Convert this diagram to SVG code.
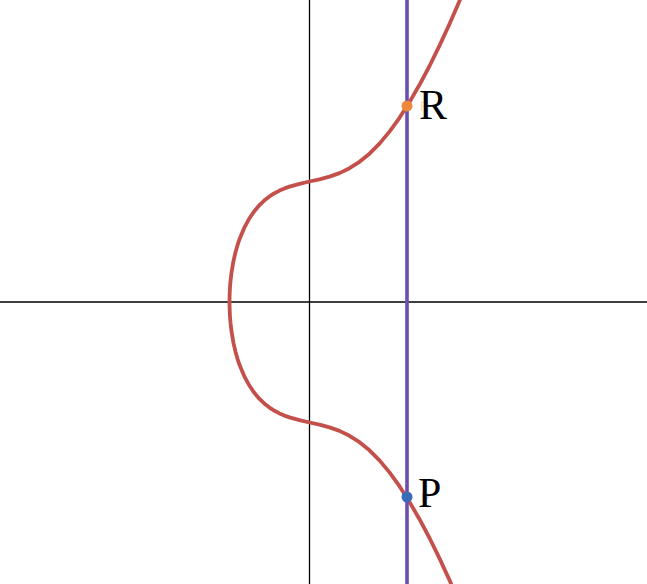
<svg xmlns="http://www.w3.org/2000/svg" width="647" height="584" viewBox="0 0 647 584">
<style>
.axis{stroke:#000;stroke-width:1.3;fill:none}
.curve{stroke:#c4504c;stroke-width:3.8;fill:none;stroke-linejoin:round;stroke-linecap:round}
.line{stroke:#6a4fb0;stroke-width:3.6;fill:none}
.lbl{font-family:"Liberation Serif","DejaVu Serif",serif;font-size:42px;fill:#000}
.faint{font-family:"Liberation Sans",sans-serif;font-size:13px;opacity:0.3}
</style>
<rect width="647" height="584" fill="#fff"/>
<g id="axes">
<line class="axis" x1="309.5" y1="0" x2="309.5" y2="584"/>
<line class="axis" x1="0" y1="302" x2="647" y2="302"/>
</g>
<g id="curve">
<path class="curve" d="M464.5,-10.9 L459.5,1 L449.5,23.9 L439.5,45.6 L429.5,66 L419.5,84.8 L409.5,102.1 L399.5,117.8 L389.5,131.6 L379.5,143.6 L369.5,153.7 L359.5,161.8 L349.5,168.2 L339.5,173.1 L329.5,176.6 L319.5,179.3 L309.5,181.5 L299.5,183.8 L289.5,186.6 L284.5,188.4 L279.5,190.6 L274.5,193.2 L269.5,196.4 L264.5,200.3 L259.5,205.1 L254.5,210.9 L249.5,218.2 L244.5,227.3 L239.5,239.2 L237.5,245.2 L235.5,252.3 L233.5,260.9 L231.5,272.6 L230.5,281.1 L230,287.2 L229.6,295.3 L229.5,302 L229.6,308.7 L230,316.8 L230.5,322.9 L231.5,331.4 L233.5,343.1 L235.5,351.7 L237.5,358.8 L239.5,364.8 L244.5,376.7 L249.5,385.8 L254.5,393.1 L259.5,398.9 L264.5,403.7 L269.5,407.6 L274.5,410.8 L279.5,413.4 L284.5,415.6 L289.5,417.4 L299.5,420.2 L309.5,422.5 L319.5,424.7 L329.5,427.4 L339.5,430.9 L349.5,435.8 L359.5,442.2 L369.5,450.3 L379.5,460.4 L389.5,472.4 L399.5,486.2 L409.5,501.9 L419.5,519.2 L429.5,538 L439.5,558.4 L449.5,580.1 L459.5,603"/>
</g>
<g id="connectors">
<line class="line" x1="407" y1="0" x2="407" y2="584"/>
</g>
<g id="R">
<circle cx="407" cy="106" r="5.5" fill="#f0883a"/>
<text class="faint" x="420" y="111" fill="#fa7e19">R</text>
<text class="lbl" x="419" y="119">R</text>
</g>
<g id="P">
<circle cx="407" cy="497" r="5.5" fill="#3a6db5"/>
<text class="faint" x="421" y="502" fill="#555">P</text>
<text class="lbl" x="418" y="507">P</text>
</g>
</svg>
